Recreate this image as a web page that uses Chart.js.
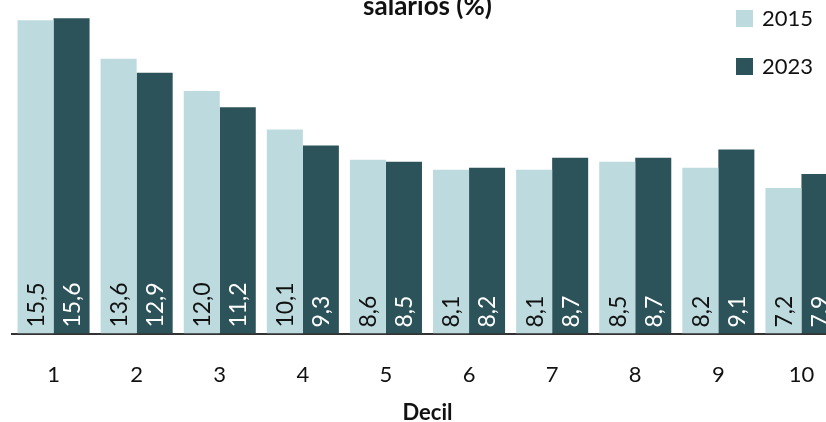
<!DOCTYPE html>
<html>
<head>
<meta charset="utf-8">
<script src="https://cdn.jsdelivr.net/npm/chart.js@4"></script>
<style>
  html, body { margin: 0; padding: 0; background: #fff; overflow: hidden; }
  #wrap { position: relative; width: 843px; height: 422px; }
</style>
</head>
<body>
<div id="wrap"><canvas id="chart"></canvas></div>
<script>
// categorías (deciles) y series
const deciles = ['1', '2', '3', '4', '5', '6', '7', '8', '9', '10'];
const serie2015 = [15.5, 13.6, 12.0, 10.1, 8.6, 8.1, 8.1, 8.5, 8.2, 7.2];
const serie2023 = [15.6, 12.9, 11.2, 9.3, 8.5, 8.2, 8.7, 8.7, 9.1, 7.9];
const seriesNames = ['2015', '2023'];
const seriesColors = ['#bddbdf', '#2d535a'];
const labelColors = ['#111111', '#ffffff'];
const titleLine = 'salarios (%)';
const axisTitle = 'Decil';

const FONT = 'Lato, "Open Sans", sans-serif';

// etiquetas verticales dentro de las barras
const barLabels = {
  id: 'barLabels',
  afterDatasetsDraw(chart) {
    const ctx = chart.ctx;
    ctx.save();
    ctx.font = '23px ' + FONT;
    ctx.textAlign = 'left';
    ctx.textBaseline = 'middle';
    chart.data.datasets.forEach((ds, i) => {
      const meta = chart.getDatasetMeta(i);
      ctx.fillStyle = labelColors[i];
      meta.data.forEach((bar, j) => {
        const txt = ds.data[j].toFixed(1).replace('.', ',');
        ctx.save();
        ctx.translate(bar.x, bar.base - 6);
        ctx.rotate(-Math.PI / 2);
        ctx.fillText(txt, 0, 1);
        ctx.restore();
      });
    });
    ctx.restore();
  }
};

// título, leyenda y título del eje dibujados encima
const overlay = {
  id: 'overlay',
  afterDraw(chart) {
    const ctx = chart.ctx;
    const area = chart.chartArea;
    const cx = (area.left + area.right) / 2;
    ctx.save();
    ctx.fillStyle = '#111';
    ctx.font = 'bold 26px ' + FONT;
    ctx.textAlign = 'center';
    ctx.textBaseline = 'alphabetic';
    ctx.fillText(titleLine, cx, 15);

    ctx.font = 'bold 22px ' + FONT;
    ctx.textBaseline = 'middle';
    ctx.fillText(axisTitle, cx, 413);

    ctx.font = '22px ' + FONT;
    ctx.textAlign = 'left';
    chart.data.datasets.forEach((ds, i) => {
      const y = 10 + i * 48;
      ctx.fillStyle = ds.backgroundColor;
      ctx.fillRect(736, y, 17, 17);
      ctx.fillStyle = '#111';
      ctx.fillText(ds.label, 762, y + 9);
    });
    ctx.restore();
  }
};

new Chart(document.getElementById('chart'), {
  type: 'bar',
  data: {
    labels: deciles,
    datasets: [
      { label: seriesNames[0], data: serie2015, backgroundColor: seriesColors[0] },
      { label: seriesNames[1], data: serie2023, backgroundColor: seriesColors[1] }
    ]
  },
  options: {
    responsive: true,
    maintainAspectRatio: false,
    animation: false,
    layout: { padding: { left: 12, right: 0, top: 0, bottom: 14 } },
    datasets: {
      bar: { barPercentage: 1, categoryPercentage: 0.867, borderWidth: 0 }
    },
    plugins: {
      legend: { display: false },
      title: { display: false },
      tooltip: { enabled: false }
    },
    scales: {
      x: {
        grid: { display: false },
        border: { display: true, color: '#333', width: 2 },
        ticks: { color: '#111', font: { family: FONT, size: 22 }, padding: 20, maxRotation: 0 }
      },
      y: { display: false, min: 0, max: 16.5 }
    }
  },
  plugins: [barLabels, overlay]
});
</script>
</body>
</html>
